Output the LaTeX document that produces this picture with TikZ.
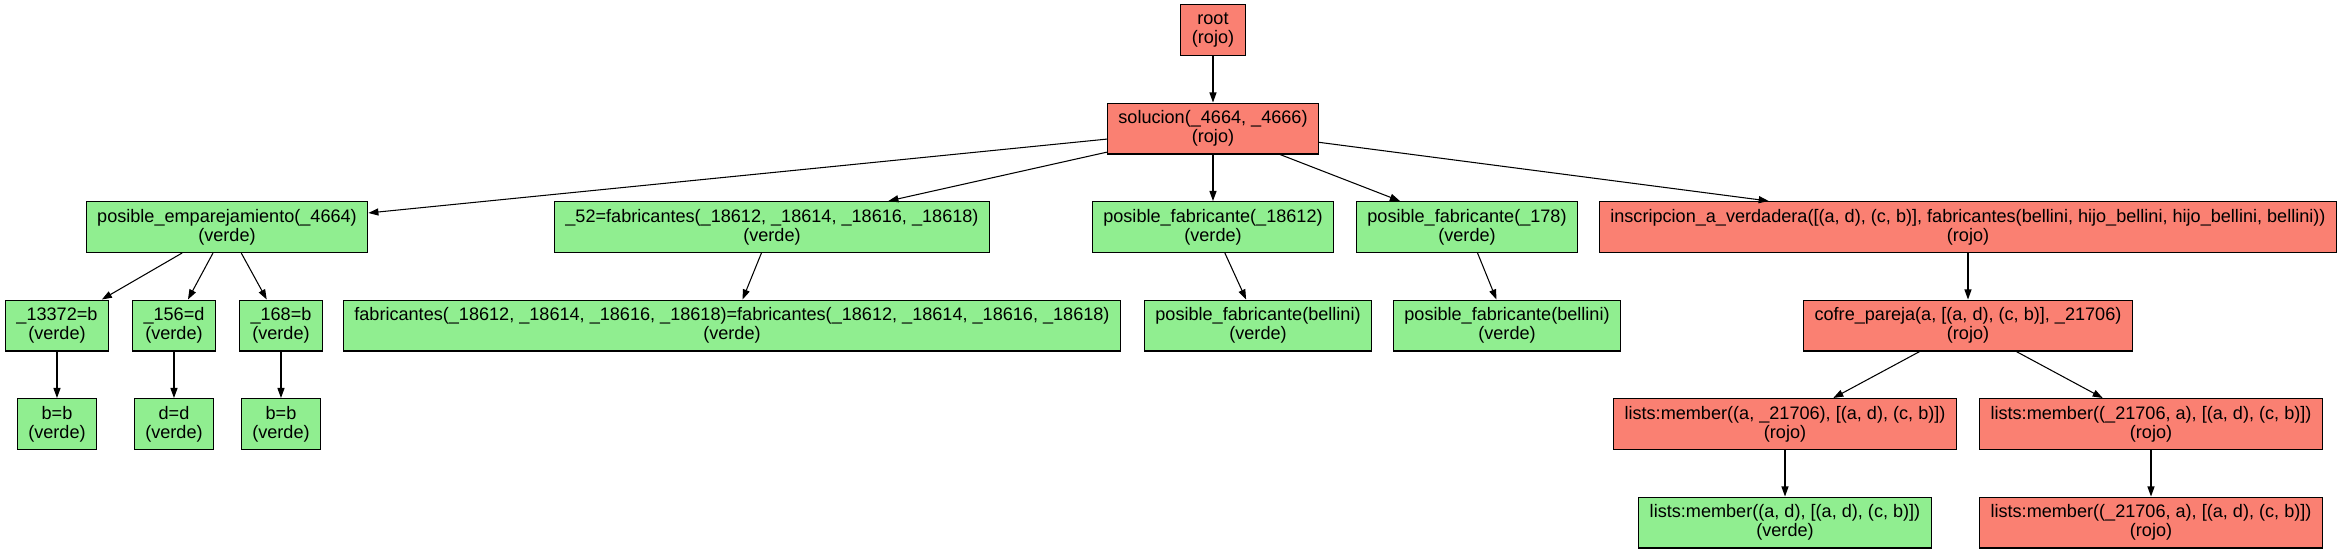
\documentclass[tikz,border=0pt]{standalone}
\usepackage{fontspec}
\setmainfont{Liberation Sans}
\usetikzlibrary{shapes,arrows.meta}
\usetikzlibrary{positioning}
\definecolor{salmon}{HTML}{FA8072}
\definecolor{lightgreen}{HTML}{90EE90}
\tikzset{
    caja/.style={
           rectangle,
           draw=black, line width=0.6pt,
           minimum height=29pt,
           inner xsep=6.3pt,
           align=center,
           font=\fontsize{10.3}{10.8}\selectfont
           },
    rojo/.style={
           caja,
           fill=salmon
           },
    verde/.style={
           caja,
           fill=lightgreen
           }
}

\begin{document}
\begin{tikzpicture}[>={Triangle[length=5.7pt,width=4pt]}, line width=0.6pt, node distance=1.97cm, on grid]
   \useasboundingbox (-24.26,0.6) rectangle (22.56,-10.5);
   \node[rojo] (root) at (0,0) {root\\(rojo)};
   \node[rojo] (sol)[below=of root] {solucion(\_4664, \_4666)\\(rojo)};
   % second row
   \node[verde] (emp)[below left=1.97cm and 19.72cm of sol] {posible\_emparejamiento(\_4664)\\(verde)};
   \node[verde] (f52)[below left=1.97cm and 8.82cm of sol] {\_52=fabricantes(\_18612, \_18614, \_18616, \_18618)\\(verde)};
   \node[verde] (pf1)[below=of sol] {posible\_fabricante(\_18612)\\(verde)};
   \node[verde] (pf2)[below right=1.97cm and 5.08cm of sol] {posible\_fabricante(\_178)\\(verde)};
   \node[rojo] (insc)[below right=1.97cm and 15.1cm of sol] {inscripcion\_a\_verdadera([(a, d), (c, b)], fabricantes(bellini, hijo\_bellini, hijo\_bellini, bellini))\\(rojo)};
   % third row
   \node[verde] (n13372)[below left=1.97cm and 3.4cm of emp] {\_13372=b\\(verde)};
   \node[verde] (n156)[below left=1.97cm and 1.06cm of emp] {\_156=d\\(verde)};
   \node[verde] (n168)[below right=1.97cm and 1.08cm of emp] {\_168=b\\(verde)};
   \node[verde] (fab)[below left=1.97cm and 0.8cm of f52] {fabricantes(\_18612, \_18614, \_18616, \_18618)=fabricantes(\_18612, \_18614, \_18616, \_18618)\\(verde)};
   \node[verde] (pfb1)[below right=1.97cm and 0.9cm of pf1] {posible\_fabricante(bellini)\\(verde)};
   \node[verde] (pfb2)[below right=1.97cm and 0.8cm of pf2] {posible\_fabricante(bellini)\\(verde)};
   \node[rojo] (cofre)[below=of insc] {cofre\_pareja(a, [(a, d), (c, b)], \_21706)\\(rojo)};
   % fourth row
   \node[verde] (bb1)[below=of n13372] {b=b\\(verde)};
   \node[verde] (dd)[below=of n156] {d=d\\(verde)};
   \node[verde] (bb2)[below=of n168] {b=b\\(verde)};
   \node[rojo] (mem1)[below left=1.97cm and 3.66cm of cofre] {lists:member((a, \_21706), [(a, d), (c, b)])\\(rojo)};
   \node[rojo] (mem2)[below right=1.97cm and 3.66cm of cofre] {lists:member((\_21706, a), [(a, d), (c, b)])\\(rojo)};
   % last row
   \node[verde] (mem3)[below=of mem1] {lists:member((a, d), [(a, d), (c, b)])\\(verde)};
   \node[rojo] (mem4)[below=of mem2] {lists:member((\_21706, a), [(a, d), (c, b)])\\(rojo)};
   \path[->]
    (root) edge (sol)
    (sol) edge (emp)
    (sol) edge (f52)
    (sol) edge (pf1)
    (sol) edge (pf2)
    (sol) edge (insc)
    (emp) edge (n13372)
    (emp) edge (n156)
    (emp) edge (n168)
    (f52) edge (fab)
    (pf1) edge (pfb1)
    (pf2) edge (pfb2)
    (insc) edge (cofre)
    (n13372) edge (bb1)
    (n156) edge (dd)
    (n168) edge (bb2)
    (cofre) edge (mem1)
    (cofre) edge (mem2)
    (mem1) edge (mem3)
    (mem2) edge (mem4);
\end{tikzpicture}
\end{document}
